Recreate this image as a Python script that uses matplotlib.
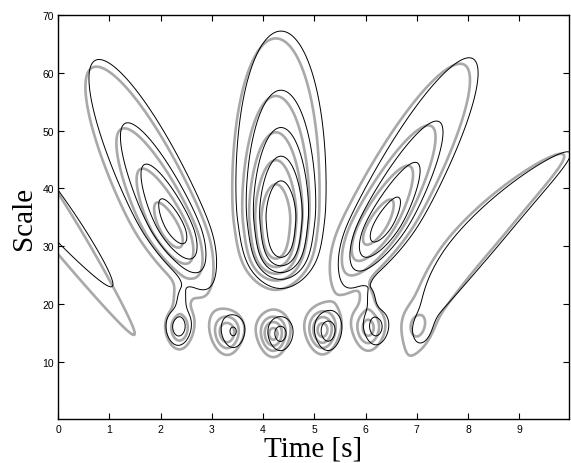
import numpy as np
import matplotlib
matplotlib.use('Agg')
import matplotlib.pyplot as plt

# Lobes of the two scalograms:
# centre time, centre scale, peak, t-width, scale spread above / below,
# tilt (dt/ds), curvature, lower cut-off scale (0 = none), upper exponent
black_t0 = [-0.50, 2.27, 2.36, 2.40, 3.42, 4.34, 5.27, 4.35, 6.35, 6.20, 6.12, 8.00, 7.10]
black_s0 = [40.0, 33.5, 16.0, 21.0, 15.2, 14.8, 15.2, 34.4, 33.8, 16.0, 21.0, 29.0, 15.0]
black_amp = [0.30, 0.72, 0.40, 0.14, 0.33, 0.38, 0.40, 1.00, 0.72, 0.40, 0.14, 0.28, 0.08]
black_w = [0.60, 0.56, 0.25, 0.14, 0.26, 0.26, 0.27, 0.62, 0.56, 0.25, 0.14, 0.65, 0.25]
black_su = [15.0, 19.5, 3.2, 2.5, 3.2, 3.1, 3.4, 19.0, 19.5, 3.2, 2.5, 25.0, 3.0]
black_sd = [21.5, 9.0, 3.2, 2.5, 3.2, 3.1, 3.4, 40.0, 9.0, 3.2, 2.5, 16.0, 3.0]
black_tilt = [-0.09, -0.051, 0, 0, 0, 0, 0, 0, 0.058, 0, 0, 0.086, 0]
black_curve = [0, 0, 0, 0, 0, 0, 0, 0, 0, 0, 0, 0.0015, 0]
black_cut = [0, 0, 0, 0, 0, 0, 0, 25.4, 0, 0, 0, 0, 0]
black_ps = [1.2, 1.2, 2, 2, 2, 2, 2, 1.2, 1.2, 2, 2, 1.2, 2]

gray_t0 = [-0.55, 2.18, 2.37, 2.38, 3.30, 4.20, 5.16, 4.25, 6.22, 6.05, 6.05, 7.92, 7.00]
gray_s0 = [40.0, 33.0, 15.7, 21.0, 15.0, 14.8, 15.4, 34.0, 33.5, 15.8, 21.0, 29.0, 16.0]
gray_amp = [0.30, 0.72, 0.45, 0.15, 0.60, 0.70, 0.70, 1.00, 0.72, 0.55, 0.15, 0.28, 0.18]
gray_w = [0.62, 0.58, 0.27, 0.16, 0.28, 0.27, 0.28, 0.60, 0.58, 0.28, 0.16, 0.67, 0.25]
gray_su = [15.0, 19.0, 3.5, 2.5, 3.3, 3.3, 3.4, 18.5, 19.0, 3.5, 2.5, 24.5, 3.0]
gray_sd = [32.0, 9.5, 3.5, 2.5, 3.3, 3.3, 3.4, 40.0, 9.5, 3.5, 2.5, 23.0, 3.0]
gray_tilt = [-0.08, -0.051, 0, 0, 0, 0, 0, 0, 0.058, 0, 0, 0.086, 0]
gray_curve = [0, 0, 0, 0, 0, 0, 0, 0, 0, 0, 0, 0.0015, 0]
gray_cut = [0, 0, 0, 0, 0, 0, 0, 25.2, 0, 0, 0, 0, 0]
gray_ps = [1.2, 1.2, 2, 2, 2, 2, 2, 1.2, 1.2, 2, 2, 1.2, 2]

levels = [0.16, 0.32, 0.48, 0.64, 0.80]
x_ticks = [0, 1, 2, 3, 4, 5, 6, 7, 8, 9]
y_ticks = [10, 20, 30, 40, 50, 60, 70]


def soft_pow(x, p):
    # |x|**p, rounded off near zero so the contours stay smooth
    return (x ** 2 + 0.0225) ** (p / 2) - 0.15 ** p


def scalogram(T, S, t0, s0, amp, w, su, sd, tilt, curve, cut, ps):
    Z = np.zeros_like(T)
    for i in range(len(t0)):
        ds = S - s0[i]
        tc = t0[i] + tilt[i] * ds + curve[i] * ds ** 2
        width = w[i] * (S / s0[i]) ** 0.6
        above = soft_pow(ds / su[i], ps[i])
        below = (ds / sd[i]) ** 2
        f = amp[i] * np.exp(-((T - tc) / width) ** 2 - np.where(ds > 0, above, below))
        if cut[i] > 0:
            f = f / (1 + np.exp(-(S - cut[i]) / 1.75))
        Z += f
    return Z


t = np.linspace(-0.5, 10.5, 700)
s = np.linspace(0.5, 72, 600)
T, S = np.meshgrid(t, s)
Zg = scalogram(T, S, gray_t0, gray_s0, gray_amp, gray_w, gray_su, gray_sd,
               gray_tilt, gray_curve, gray_cut, gray_ps)
Zb = scalogram(T, S, black_t0, black_s0, black_amp, black_w, black_su, black_sd,
               black_tilt, black_curve, black_cut, black_ps)

fig = plt.figure(figsize=(5.71, 4.64), dpi=100)
ax = fig.add_axes([0.1016, 0.0938, 0.8949, 0.8717])

ax.contour(T, S, Zg, levels=levels, colors='#a9a9a9', linewidths=1.9)
ax.contour(T, S, Zb, levels=levels, colors='black', linewidths=0.7)

ax.set_xlim(0, 9.97)
ax.set_ylim(0, 70)
ax.set_xticks(x_ticks)
ax.set_yticks(y_ticks)
ax.tick_params(direction='in', length=4, width=0.8, top=True, right=True,
               labelsize=7.5, pad=3)
for lab in ax.get_xticklabels() + ax.get_yticklabels():
    lab.set_family('Liberation Sans')
for sp in ax.spines.values():
    sp.set_linewidth(1.0)

ax.set_xlabel('Time [s]', family='Liberation Serif', fontsize=21, labelpad=1)
ax.set_ylabel('Scale', family='Liberation Serif', fontsize=21, labelpad=4)

fig.savefig('out.png', dpi=100)
